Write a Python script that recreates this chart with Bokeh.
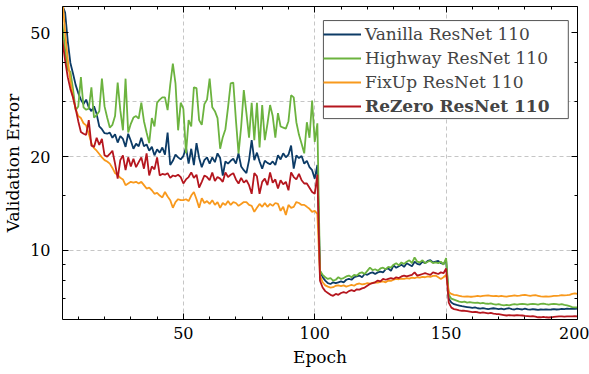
from bokeh.plotting import figure
from bokeh.models import (Range1d, FixedTicker, LinearAxis, LogAxis, Legend, LegendItem,
                          BoxAnnotation, BasicTickFormatter)
from bokeh.embed import file_html
from bokeh.resources import INLINE

epochs = list(range(1, 201))

vanilla = [
    90, 75, 66, 61, 58, 47, 40, 37, 34, 32,
    30.5, 29.5, 30.5, 28.8, 28.0, 29.0, 27.4, 25.0, 24.5, 23.8,
    23.7, 23.9, 23.0, 23.6, 22.2, 23.3, 22.8, 21.5, 23.7, 22.5,
    21.2, 22.0, 21.6, 23.0, 21.6, 21.9, 20.9, 21.5, 20.2, 21.1,
    20.6, 21.4, 20.3, 23.9, 18.8, 19.4, 20.3, 19.9, 19.6, 20.1,
    21.4, 19.0, 21.2, 18.8, 22.1, 19.8, 18.5, 19.5, 19.9, 19.0,
    19.9, 19.2, 20.5, 19.8, 17.4, 19.3, 19.0, 19.4, 19.7, 19.0,
    20.5, 18.6, 18.1, 17.7, 19.5, 22.6, 19.5, 20.6, 19.3, 18.3,
    19.4, 19.1, 18.9, 19.3, 18.8, 20.2, 19.6, 20.5, 19.9, 20.3,
    21.7, 18.3, 20.2, 19.8, 20.1, 19.0, 19.4, 18.5, 18.1, 17.0,
    18.8,
    8.6, 8.2, 8.0, 7.85, 7.8, 7.9, 7.85, 7.9, 7.95,
    7.9, 8.05, 8.1, 8.05, 8.2, 8.25, 8.3, 8.2, 8.4, 8.35,
    8.45, 8.5, 8.4, 8.5, 8.55, 8.5, 8.7, 8.75, 8.6, 8.95,
    8.8, 8.9, 9.0, 8.85, 9.1, 9.0, 8.9, 9.2, 9.05, 9.0,
    9.2, 9.1, 9.25, 9.3, 9.15, 9.2, 9.25, 9.1, 9.05, 9.3,
    7.0, 6.8, 6.72, 6.68, 6.65, 6.62, 6.6, 6.58, 6.56, 6.54,
    6.56, 6.52, 6.5, 6.53, 6.5, 6.48, 6.5, 6.52, 6.5, 6.48,
    6.5, 6.47, 6.5, 6.52, 6.48, 6.46, 6.5, 6.48, 6.46, 6.5,
    6.47, 6.45, 6.48, 6.46, 6.44, 6.46, 6.45, 6.47, 6.45, 6.46,
    6.48, 6.46, 6.47, 6.49, 6.48, 6.5, 6.49, 6.5, 6.49, 6.5,
]

highway = [
    70, 62, 56, 53, 44, 38, 37.5, 33, 28.2, 29,
    36, 28.8, 28.3, 28.5, 33.4, 26.7, 27.2, 28, 35.6, 29,
    26.7, 24.8, 25.3, 27, 34.6, 28.2, 24.3, 35.6, 23.9, 25.5,
    26.7, 27.0, 26.5, 29.8, 26.0, 23.9, 22.1, 26.6, 25.0, 29.8,
    30.5, 31.0, 31.0, 28.2, 34.0, 39.8, 34.4, 24.3, 29.8, 28.5,
    20.5, 26.2, 25.0, 33.4, 33.2, 26.2, 25.3, 29.5, 30.5, 35.6,
    28.8, 28.0, 26.6, 21.2, 23.1, 24.5, 28.8, 34.4, 34.6, 26.2,
    20.5, 25.0, 32.7, 27.6, 23.0, 29.8, 22.6, 29.8, 21.4, 29.3,
    22.6, 25.5, 29.3, 27.0, 23.0, 27.6, 25.0, 24.8, 24.6, 26.0,
    31.5, 31.0, 25.8, 23.5, 22.0, 20.5, 25.8, 23.0, 30.3, 22.3,
    25.6,
    8.6, 8.35, 8.2, 8.1, 8.15, 8.0, 8.05, 8.2, 8.1,
    8.15, 8.25, 8.3, 8.2, 8.35, 8.3, 8.45, 8.5, 8.4, 8.6,
    8.8, 8.65, 8.7, 8.6, 8.75, 8.8, 8.7, 8.85, 8.8, 9.0,
    9.1, 8.95, 9.15, 9.05, 9.2, 9.3, 9.1, 9.5, 9.2, 9.15,
    9.3, 9.1, 9.2, 9.25, 9.1, 9.15, 9.1, 9.2, 9.0, 9.45,
    7.2, 7.0, 6.95, 6.9, 6.85, 6.82, 6.85, 6.8, 6.82, 6.8,
    6.78, 6.8, 6.76, 6.78, 6.75, 6.74, 6.76, 6.72, 6.7, 6.72,
    6.68, 6.66, 6.68, 6.66, 6.7, 6.72, 6.7, 6.72, 6.74, 6.72,
    6.7, 6.72, 6.74, 6.72, 6.7, 6.73, 6.75, 6.72, 6.7, 6.72,
    6.74, 6.72, 6.7, 6.72, 6.68, 6.66, 6.62, 6.58, 6.56, 6.56,
]

fixup = [
    110, 90, 75, 64, 50, 41, 35, 31, 28.5, 27,
    26.6, 25.6, 25.2, 23.7, 22.1, 21.3, 20.9, 20.4, 19.9, 19.5,
    19.3, 19.0, 18.4, 17.7, 17.5, 17.1, 16.9, 16.2, 16.4, 16.6,
    16.5, 16.6, 16.4, 16.6, 16.2, 15.8, 15.9, 15.6, 15.2, 15.3,
    15.0, 14.8, 15.4, 14.9, 14.5, 13.7, 14.3, 14.6, 14.5, 14.5,
    14.6, 14.4, 15.0, 15.4, 14.6, 13.7, 14.7, 14.2, 14.4, 14.1,
    14.5, 14.0, 14.3, 13.7, 14.2, 14.0, 14.4, 14.0, 14.3, 14.2,
    13.9, 14.1, 14.3, 14.3, 14.0, 13.9, 13.3, 13.7, 14.1, 13.8,
    14.2, 13.8, 14.1, 13.9, 14.2, 14.1, 13.4, 13.8, 13.0, 14.0,
    13.7, 13.8, 14.3, 14.2, 14.0, 14.0, 13.8, 13.6, 13.3, 13.4,
    13.1,
    8.3, 7.9, 7.72, 7.65, 7.6, 7.62, 7.7, 7.72, 7.68,
    7.72, 7.65, 7.7, 7.75, 7.7, 7.8, 7.83, 7.78, 7.8, 7.85,
    7.82, 7.86, 7.9, 7.88, 7.92, 7.95, 7.9, 8.0, 7.98, 8.05,
    8.1, 8.08, 8.12, 8.1, 8.15, 8.12, 8.18, 8.15, 8.2, 8.18,
    8.22, 8.2, 8.25, 8.22, 8.28, 8.3, 8.2, 8.1, 8.2, 8.35,
    7.35, 7.25, 7.2, 7.18, 7.15, 7.12, 7.1, 7.12, 7.1, 7.1,
    7.12, 7.14, 7.12, 7.15, 7.16, 7.17, 7.15, 7.13, 7.15, 7.12,
    7.14, 7.12, 7.1, 7.13, 7.15, 7.17, 7.15, 7.16, 7.18, 7.2,
    7.17, 7.15, 7.17, 7.18, 7.15, 7.12, 7.1, 7.12, 7.1, 7.12,
    7.14, 7.15, 7.16, 7.18, 7.17, 7.18, 7.2, 7.25, 7.28, 7.25,
]

rezero = [
    65, 55, 50, 47.2, 40.7, 36, 33, 31, 28.5, 26,
    24, 23.7, 23.5, 26.2, 21.7, 21.5, 23.0, 21.8, 22.8, 20.2,
    20.0, 20.4, 20.9, 19.0, 17.0, 19.5, 20.2, 18.1, 19.9, 18.6,
    19.7, 18.5, 19.2, 19.9, 18.3, 20.5, 17.4, 18.6, 18.2, 19.9,
    17.4, 17.6, 17.5, 17.7, 17.1, 17.4, 17.3, 17.5, 17.2, 16.4,
    16.9, 17.2, 17.8, 17.1, 17.5, 15.9, 16.6, 17.4, 17.2, 16.8,
    17.8, 16.7, 17.2, 17.0, 16.6, 17.8, 17.2, 17.5, 17.7, 16.9,
    16.4, 17.1, 16.5, 16.8, 16.2, 15.2, 17.7, 17.3, 15.2, 16.6,
    17.0, 16.2, 17.8, 16.5, 16.9, 15.8, 16.8, 16.3, 16.6, 15.6,
    17.8, 17.2, 16.9, 17.6, 16.8, 16.4, 16.4, 15.9, 15.4, 15.2,
    17.5,
    8.0, 7.6, 7.4, 7.3, 7.2, 7.15, 7.25, 7.2, 7.3,
    7.35, 7.3, 7.4, 7.45, 7.4, 7.5, 7.48, 7.55, 7.6, 7.7,
    7.8, 7.85, 7.9, 8.0, 7.95, 8.1, 8.05, 8.1, 8.15, 8.1,
    8.2, 8.15, 8.25, 8.3, 8.25, 8.3, 8.35, 8.5, 8.3, 8.35,
    8.4, 8.45, 8.4, 8.35, 8.5, 8.45, 8.4, 8.5, 8.45, 8.75,
    6.8, 6.55, 6.48, 6.45, 6.42, 6.4, 6.4, 6.38, 6.36, 6.34,
    6.35, 6.33, 6.3, 6.32, 6.3, 6.28, 6.3, 6.27, 6.25, 6.24,
    6.22, 6.2, 6.18, 6.2, 6.19, 6.18, 6.2, 6.19, 6.18, 6.16,
    6.15, 6.14, 6.15, 6.13, 6.1, 6.1, 6.12, 6.1, 6.09, 6.1,
    6.12, 6.13, 6.14, 6.14, 6.13, 6.14, 6.14, 6.14, 6.15, 6.14,
]

x_major = [50, 100, 150, 200]
x_minor = [10, 20, 30, 40, 60, 70, 80, 90, 110, 120, 130, 140, 160, 170, 180, 190]
y_major = [10, 20, 50]
y_minor = [7, 8, 9, 15, 30, 40]
y_grid = [10, 20, 30]
x_grid = [50, 100, 150]

labels = ["Vanilla ResNet 110", "Highway ResNet 110", "FixUp ResNet 110", "ReZero ResNet 110"]
colors = ["#0c3b66", "#6cb33f", "#f8991d", "#b5161e"]

FONT = "DejaVu Serif"
FS = "17px"
TICK_FS = "16px"

p = figure(width=589, height=374, x_range=Range1d(4, 200), y_range=Range1d(6.0, 60.7),
           y_axis_type="log", output_backend="svg", toolbar_location=None,
           min_border_left=62, min_border_right=12, min_border_top=6, min_border_bottom=55)
p.background_fill_color = "white"
p.border_fill_color = "white"
p.outline_line_color = None


def style_axis(ax, major, minor, show_labels):
    ax.ticker = FixedTicker(ticks=major, minor_ticks=minor)
    ax.major_tick_in = 6
    ax.major_tick_out = 0
    ax.minor_tick_in = 3
    ax.minor_tick_out = 0
    ax.axis_line_color = "black"
    ax.axis_line_width = 1
    ax.major_tick_line_color = "black"
    ax.minor_tick_line_color = "black"
    ax.major_label_text_font = FONT
    ax.axis_label_text_font = FONT
    ax.axis_label_text_font_style = "normal"
    ax.axis_label_text_font_size = FS
    ax.axis_label_text_color = "black"
    if show_labels:
        ax.major_label_text_font_size = TICK_FS
        ax.major_label_text_color = "black"
    else:
        ax.major_label_text_font_size = "1px"
        ax.major_label_text_color = None
        ax.major_label_standoff = 0


xa = p.xaxis[0]
style_axis(xa, x_major, x_minor, True)
xa.axis_label = "Epoch"
xa.major_label_standoff = 7
xa.axis_label_standoff = 5

ya = p.yaxis[0]
style_axis(ya, y_major, y_minor, True)
ya.formatter = BasicTickFormatter()
ya.axis_label = "Validation Error"
ya.major_label_standoff = 12
ya.axis_label_standoff = 4

top = LinearAxis()
style_axis(top, x_major, x_minor, False)
p.add_layout(top, "above")
right = LogAxis()
style_axis(right, y_major, y_minor, False)
p.add_layout(right, "right")

p.xgrid.ticker = FixedTicker(ticks=x_grid)
p.ygrid.ticker = FixedTicker(ticks=y_grid)
for g in (p.xgrid[0], p.ygrid[0]):
    g.grid_line_color = "#b8b8b8"
    g.grid_line_dash = "4 3"
    g.grid_line_width = 0.8

series = [vanilla, highway, fixup, rezero]
rends = []
for ys, c in zip(series, colors):
    rends.append(p.line(epochs, ys, line_color=c, line_width=1.8))

box = BoxAnnotation(left=103.3, right=196.5, top=54.7, bottom=26.5,
                    fill_color="white", fill_alpha=1.0, line_color="#555555", line_width=1,
                    line_alpha=1.0)
p.add_layout(box)


def make_legend(items, loc, bold):
    lg = Legend(items=items, location=loc, padding=2, margin=0, spacing=4,
                label_height=20, glyph_height=20, glyph_width=38, label_standoff=4,
                label_text_font=FONT, label_text_font_size=FS,
                label_text_font_style="bold" if bold else "normal",
                border_line_color=None, background_fill_alpha=0.0)
    return lg


leg1 = make_legend([LegendItem(label=labels[i], renderers=[rends[i]]) for i in range(3)], (261, 227), False)
leg2 = make_legend([LegendItem(label=labels[3], renderers=[rends[3]])], (261, 203), True)
p.add_layout(leg1)
p.add_layout(leg2)

open("out.html", "w").write(file_html(p, INLINE))
